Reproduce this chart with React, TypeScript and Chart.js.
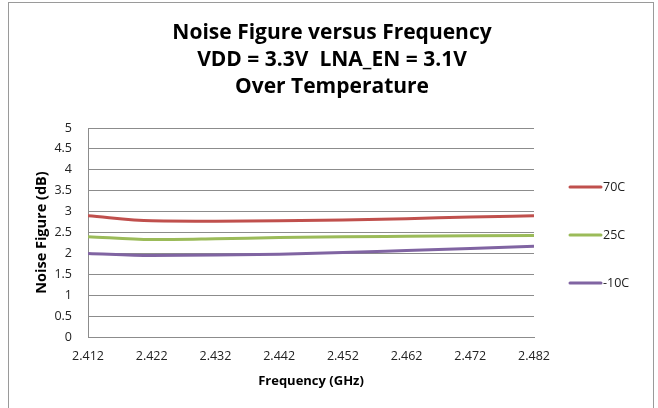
import React, { useEffect, useRef } from "react";
import { Chart, registerables } from "chart.js";

Chart.register(...registerables);

const frequencies = [2.412, 2.422, 2.432, 2.442, 2.452, 2.462, 2.472, 2.482];
const nf70C = [2.9, 2.78, 2.77, 2.78, 2.8, 2.83, 2.87, 2.9];
const nf25C = [2.4, 2.33, 2.35, 2.38, 2.4, 2.41, 2.42, 2.43];
const nfMinus10C = [2.0, 1.95, 1.96, 1.98, 2.02, 2.07, 2.12, 2.17];
const seriesLabels = ["70C", "25C", "-10C"];
const seriesColors = ["#C0504D", "#9BBB59", "#8064A2"];
const titleLines = [
  "Noise Figure versus Frequency",
  "VDD = 3.3V  LNA_EN = 3.1V",
  "Over Temperature",
];
const yTicks = [0, 0.5, 1, 1.5, 2, 2.5, 3, 3.5, 4, 4.5, 5];

const FONT = "'Open Sans', Lato, sans-serif";

const titlePlugin = {
  id: "centerTitle",
  afterDraw(chart: any) {
    const ctx = chart.ctx;
    ctx.save();
    ctx.fillStyle = "#000";
    ctx.font = `bold 21px ${FONT}`;
    ctx.textAlign = "center";
    ctx.textBaseline = "middle";
    titleLines.forEach((t, i) => ctx.fillText(t, 332, 33 + i * 27));
    ctx.restore();
  },
};

const legendPlugin = {
  id: "sideLegend",
  afterDraw(chart: any) {
    const ctx = chart.ctx;
    ctx.save();
    chart.data.datasets.forEach((ds: any, i: number) => {
      const y = 187 + i * 48;
      ctx.strokeStyle = ds.borderColor;
      ctx.lineWidth = 3;
      ctx.lineCap = "round";
      ctx.beginPath();
      ctx.moveTo(570, y);
      ctx.lineTo(601, y);
      ctx.stroke();
      ctx.fillStyle = "#222";
      ctx.font = `12.5px ${FONT}`;
      ctx.textAlign = "left";
      ctx.textBaseline = "middle";
      ctx.fillText(ds.label, 603, y + 0.5);
    });
    ctx.restore();
  },
};

export default function App() {
  const ref = useRef<HTMLCanvasElement>(null);
  useEffect(() => {
    document.body.style.margin = "0";
    document.body.style.overflow = "hidden";
    const series = [nf70C, nf25C, nfMinus10C];
    const chart = new Chart(ref.current!, {
      type: "line",
      data: {
        datasets: series.map((vals, i) => ({
          label: seriesLabels[i],
          data: vals.map((v, j) => ({ x: frequencies[j], y: v })),
          borderColor: seriesColors[i],
          backgroundColor: seriesColors[i],
          borderWidth: 3,
          pointRadius: 0,
          tension: 0.4,
          cubicInterpolationMode: "monotone" as const,
          fill: false,
        })),
      },
      options: {
        animation: false,
        responsive: false,
        maintainAspectRatio: false,
        layout: { padding: { left: 0, right: 124, top: 128, bottom: 19 } },
        plugins: {
          legend: { display: false },
          tooltip: { enabled: false },
          title: { display: false },
        },
        scales: {
          x: {
            type: "linear",
            min: frequencies[0],
            max: frequencies[frequencies.length - 1],
            ticks: {
              stepSize: 0.01,
              callback: (v: any) => Number(v).toFixed(3),
              color: "#222",
              font: { family: FONT, size: 12.5 },
              padding: 12,
              maxRotation: 0,
              autoSkip: false,
            },
            grid: { display: false, drawTicks: false },
            border: { display: true, color: "#8c8c8c", width: 1 },
            title: {
              display: true,
              text: "Frequency (GHz)",
              color: "#000",
              font: { family: FONT, size: 13, weight: "bold" },
              padding: { top: 0, bottom: 0 },
            },
            afterFit: (s: any) => {
              s.height = 52;
            },
          },
          y: {
            min: 0,
            max: 5,
            afterBuildTicks: (s: any) => {
              s.ticks = yTicks.map((v) => ({ value: v }));
            },
            ticks: {
              color: "#222",
              font: { family: FONT, size: 12.5 },
              padding: 16,
              callback: (v: any) => String(v),
            },
            grid: { color: "#8c8c8c", lineWidth: 1, drawTicks: false },
            border: { display: true, color: "#8c8c8c", width: 1 },
            title: {
              display: true,
              text: "Noise Figure (dB)",
              color: "#000",
              font: { family: FONT, size: 14.5, weight: "bold" },
              padding: { top: 33, bottom: 0 },
            },
            afterFit: (s: any) => {
              s.width = 88;
            },
          },
        },
      },
      plugins: [titlePlugin, legendPlugin],
    });
    return () => chart.destroy();
  }, []);
  return (
    <div style={{ position: "absolute", left: 0, top: 0, width: 658, height: 408, overflow: "hidden", background: "#fff" }}>
      <div
        style={{
          position: "absolute",
          left: 8,
          top: 2,
          width: 646,
          height: 440,
          border: "1px solid #9a9a9a",
          boxSizing: "border-box",
        }}
      />
      <canvas ref={ref} width={658} height={408} style={{ position: "absolute", left: 0, top: 0, display: "block" }} />
    </div>
  );
}
